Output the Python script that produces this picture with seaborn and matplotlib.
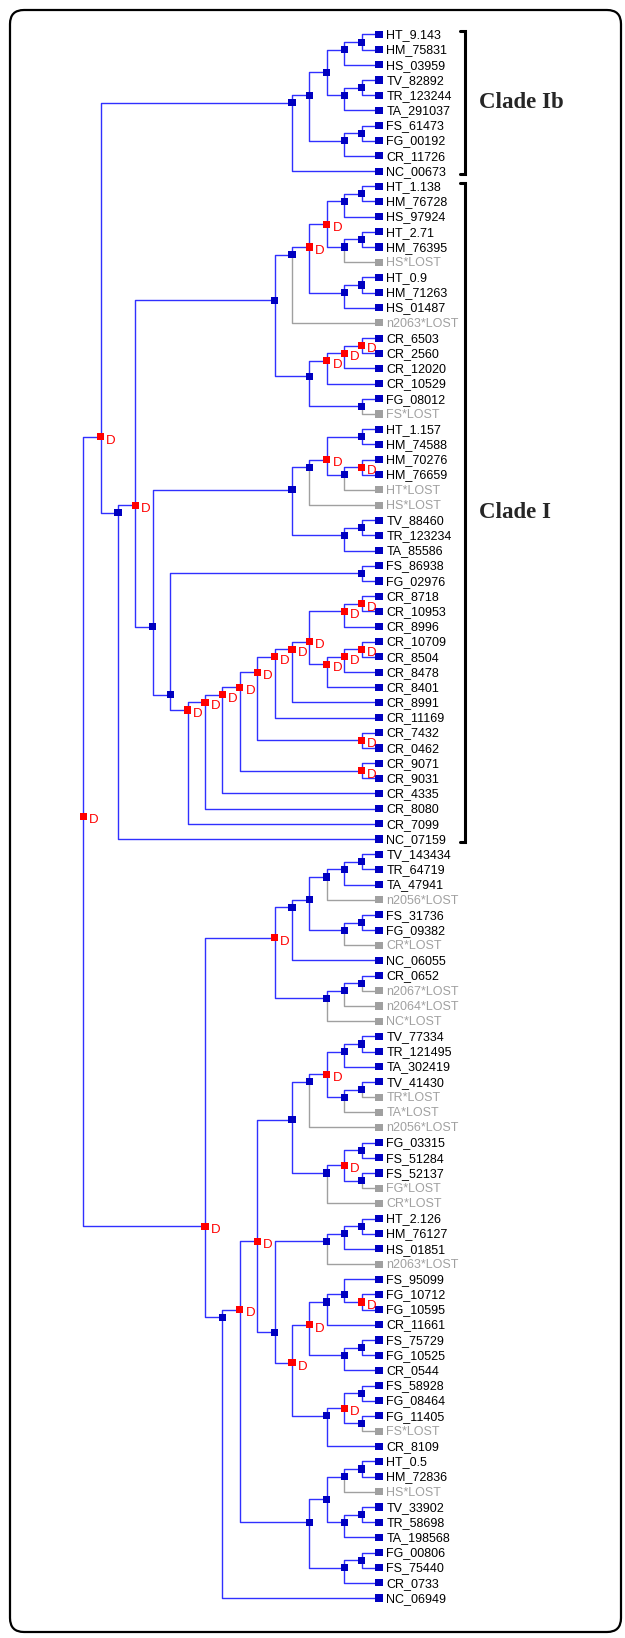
import matplotlib
matplotlib.use("Agg")

import numpy as np
import pandas as pd
import seaborn as sns
import matplotlib.pyplot as plt
from matplotlib.collections import LineCollection
from matplotlib.patches import FancyBboxPatch

sns.set_style("white")
plt.rcParams['font.family'] = ['Liberation Sans', 'DejaVu Sans']

# Gene tree (reconciled), Newick-like: ")D" marks a duplication node,
# "*LOST" marks a lost gene copy.
CLADE_IB = ("(((((HT_9.143,HM_75831),HS_03959),((TV_82892,TR_123244),TA_291037)),"
            "((FS_61473,FG_00192),CR_11726)),NC_00673)")

# clade I pieces
I_HOMINID = ("(((((HT_1.138,HM_76728),HS_97924),((HT_2.71,HM_76395),HS*LOST))D,"
             "((HT_0.9,HM_71263),HS_01487))D,n2063*LOST)")
I_CR_SMALL = "((((CR_6503,CR_2560)D,CR_12020)D,CR_10529)D,(FG_08012,FS*LOST))"
I_HM = ("((((HT_1.157,HM_74588),((HM_70276,HM_76659)D,HT*LOST))D,HS*LOST),"
        "((TV_88460,TR_123234),TA_85586))")
I_CR_CORE = "(((CR_8718,CR_10953)D,CR_8996)D,(((CR_10709,CR_8504)D,CR_8478)D,CR_8401)D)D"
I_CR_CHAIN = ("(((((((" + I_CR_CORE + ",CR_8991)D,CR_11169)D,(CR_7432,CR_0462)D)D,"
              "(CR_9071,CR_9031)D)D,CR_4335)D,CR_8080)D,CR_7099)D")
CLADE_I = ("(((" + I_HOMINID + "," + I_CR_SMALL + "),(" + I_HM + ",((FS_86938,FG_02976),"
           + I_CR_CHAIN + ")))D,NC_07159)")

# clade II pieces
II_TOP = ("((((((TV_143434,TR_64719),TA_47941),n2056*LOST),((FS_31736,FG_09382),CR*LOST)),NC_06055),"
          "(((CR_0652,n2067*LOST),n2064*LOST),NC*LOST))D")
II_T = ("(((((TV_77334,TR_121495),TA_302419),((TV_41430,TR*LOST),TA*LOST))D,n2056*LOST),"
        "(((FG_03315,FS_51284),(FS_52137,FG*LOST))D,CR*LOST))")
II_H = ("((((HT_2.126,HM_76127),HS_01851),n2063*LOST),"
        "((((FS_95099,(FG_10712,FG_10595)D),CR_11661),((FS_75729,FG_10525),CR_0544))D,"
        "(((FS_58928,FG_08464),(FG_11405,FS*LOST))D,CR_8109))D)")
II_LOW = ("((((HT_0.5,HM_72836),HS*LOST),((TV_33902,TR_58698),TA_198568)),"
          "((FG_00806,FS_75440),CR_0733))")
CLADE_II = "(" + II_TOP + ",(((" + II_T + "," + II_H + ")D," + II_LOW + ")D,NC_06949))D"

TREE = "((" + CLADE_IB + "," + CLADE_I + ")D," + CLADE_II + ")D"

CLADE_NAMES = ['Clade Ib', 'Clade I']
CLADE_FIRST = ['HT_9.143', 'HT_1.138']
CLADE_LAST = ['NC_00673', 'NC_07159']


def parse(s, i=0):
    if s[i] == '(':
        kids = []
        i += 1
        while True:
            kid, i = parse(s, i)
            kids.append(kid)
            if s[i] == ',':
                i += 1
                continue
            i += 1  # ')'
            break
        j = i
        while j < len(s) and s[j] not in '(),':
            j += 1
        return {'children': kids, 'dup': s[i:j] == 'D'}, j
    j = i
    while j < len(s) and s[j] not in '(),':
        j += 1
    return {'name': s[i:j]}, j


root, _ = parse(TREE)

nodes = []
leaf_count = [0]


def layout(n):
    # leaves get consecutive rows, internal nodes sit at mean of their leaves
    if 'children' not in n:
        n['level'] = 0
        n['leaves'] = [leaf_count[0]]
        n['y'] = float(leaf_count[0])
        n['lost'] = n['name'].endswith('*LOST')
        leaf_count[0] += 1
    else:
        for c in n['children']:
            layout(c)
        n['level'] = max(c['level'] for c in n['children']) + 1
        n['leaves'] = sum((c['leaves'] for c in n['children']), [])
        n['y'] = float(np.mean(n['leaves']))
        n['lost'] = all(c['lost'] for c in n['children'])
    nodes.append(n)


layout(root)
assert leaf_count[0] == 104, leaf_count[0]

# pixel geometry of the reference
W, H = 625, 1638
LEAF_PX, LEVEL_PX = 379.0, 17.4
TOP_PX, ROW_PX = 34.5, 15.18

BLUE_LINE = '#3030ff'
BLUE_MARK = '#0000c0'
RED = '#ff0000'
GRAY = '#a0a0a0'

fig = plt.figure(figsize=(W / 100, H / 100), dpi=100)
ax = fig.add_axes([0, 0, 1, 1])
ax.set_xlim(LEAF_PX / LEVEL_PX, (LEAF_PX - W) / LEVEL_PX)
ax.set_ylim((H - TOP_PX) / ROW_PX, -TOP_PX / ROW_PX)

segs, cols = [], []
for n in nodes:
    if 'children' not in n:
        continue
    for c in n['children']:
        segs.append([(n['level'], n['y']), (n['level'], c['y']), (c['level'], c['y'])])
        cols.append(GRAY if c['lost'] else BLUE_LINE)
ax.add_collection(LineCollection(segs, colors=cols, linewidths=1.0, zorder=1))

df = pd.DataFrame({
    'x': [n['level'] for n in nodes],
    'y': [n['y'] for n in nodes],
    'kind': ['lost' if n['lost'] else ('dup' if n.get('dup') else 'spec') for n in nodes],
})
sns.scatterplot(data=df, x='x', y='y', hue='kind', marker='s', s=26, linewidth=0,
                palette={'spec': BLUE_MARK, 'dup': RED, 'lost': GRAY},
                legend=False, ax=ax, zorder=3)

for n in nodes:
    if 'children' not in n:
        ax.text(-0.42, n['y'] + 0.05, n['name'], fontsize=9, ha='left', va='center',
                color=GRAY if n['lost'] else 'black')
    elif n['dup']:
        ax.text(n['level'] - 0.33, n['y'] + 0.25, 'D', fontsize=9.5, ha='left',
                va='center', color=RED)

# clade brackets
leaf_y = {n['name']: n['y'] for n in nodes if 'children' not in n}
bx = -4.95
for name, first, last in zip(CLADE_NAMES, CLADE_FIRST, CLADE_LAST):
    y0, y1 = leaf_y[first] - 0.2, leaf_y[last] + 0.2
    ax.plot([bx + 0.3, bx, bx, bx + 0.3], [y0, y0, y1, y1], color='black', lw=2.2,
            solid_joinstyle='miter', zorder=2)
    ax.text(bx - 0.8, (y0 + y1) / 2, name, fontsize=16.5, fontweight='bold',
            family='Liberation Serif', ha='left', va='center')

ax.set_axis_off()

# rounded outer frame
fr = fig.add_axes([0, 0, 1, 1], facecolor='none')
fr.set_xlim(0, W)
fr.set_ylim(H, 0)
fr.set_axis_off()
fr.add_patch(FancyBboxPatch((10, 10), W - 14, H - 16,
                            boxstyle='round,pad=0,rounding_size=14',
                            fill=False, ec='black', lw=1.6))

fig.savefig('out.png', dpi=100)
plt.close(fig)
